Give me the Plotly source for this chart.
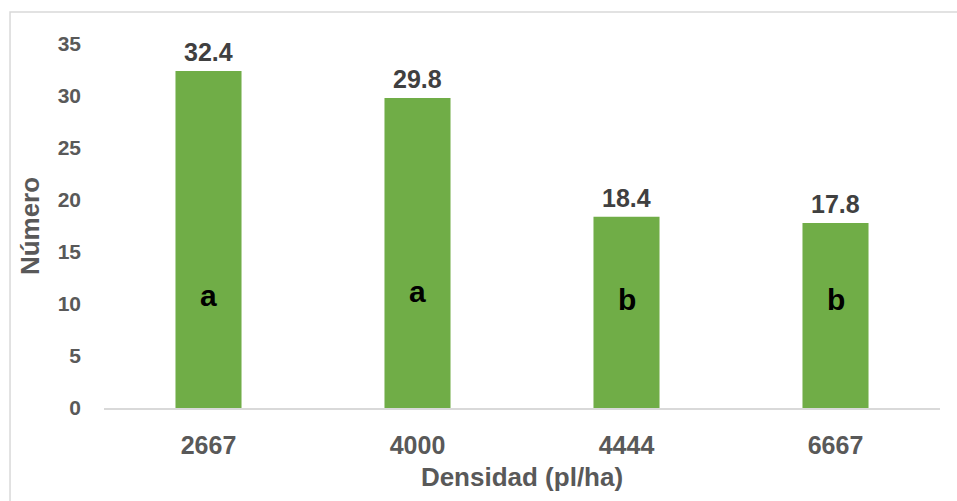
import plotly.graph_objects as go

# Plant density treatments and mean counts
densidad = ["2667", "4000", "4444", "6667"]
numero = [32.4, 29.8, 18.4, 17.8]
# Significance groups and the height (in axis units) where each letter sits
letras = ["a", "a", "b", "b"]
letra_y = [10.8, 11.2, 10.4, 10.4]

FONT = "Arial, Liberation Sans, sans-serif"

fig = go.Figure()
fig.add_trace(go.Bar(
    x=densidad,
    y=numero,
    marker=dict(color="#70AD47", line=dict(width=0)),
    width=0.316,
    hoverinfo="x+y",
))

# On a category axis annotations are placed by category index
annotations = []
for i, val in enumerate(numero):
    annotations.append(dict(
        x=i, y=val, xref="x", yref="y",
        text=f"<b>{val:.1f}</b>", showarrow=False,
        yanchor="bottom", yshift=3,
        font=dict(family=FONT, size=25, color="#404040"),
    ))
for i, (let, ly) in enumerate(zip(letras, letra_y)):
    annotations.append(dict(
        x=i, y=ly, xref="x", yref="y",
        text=f"<b>{let}</b>", showarrow=False,
        yanchor="middle",
        font=dict(family=FONT, size=30, color="#000000"),
    ))

fig.update_layout(
    width=957, height=501,
    margin=dict(l=104, r=17, t=44, b=93),
    paper_bgcolor="white", plot_bgcolor="white",
    showlegend=False,
    bargap=0.684,
    annotations=annotations,
    xaxis=dict(
        type="category",
        range=[-0.5, 3.5],
        title=dict(text="<b>Densidad (pl/ha)</b>", standoff=10,
                   font=dict(family=FONT, size=26, color="#595959")),
        tickfont=dict(family=FONT, size=25, color="#595959"),
        tickprefix="<b>", ticksuffix="</b>",
        showline=True, linecolor="#d9d9d9", linewidth=1.5,
        ticks="", showgrid=False, zeroline=False,
        ticklabelstandoff=14,
    ),
    yaxis=dict(
        title=dict(text="<b>Número</b>", standoff=10,
                   font=dict(family=FONT, size=26, color="#595959")),
        range=[0, 35], dtick=5,
        tickfont=dict(family=FONT, size=21, color="#595959"),
        tickprefix="<b>", ticksuffix="</b>",
        showline=False, ticks="", showgrid=False, zeroline=False,
        ticklabelstandoff=22,
    ),
    shapes=[dict(
        type="rect", xref="paper", yref="paper",
        x0=-0.1124, x1=1.1, y0=-0.35, y1=1.0879,
        line=dict(color="#d9d9d9", width=1.5),
        fillcolor="rgba(0,0,0,0)", layer="below",
    )],
)

fig.write_html("out.html")
